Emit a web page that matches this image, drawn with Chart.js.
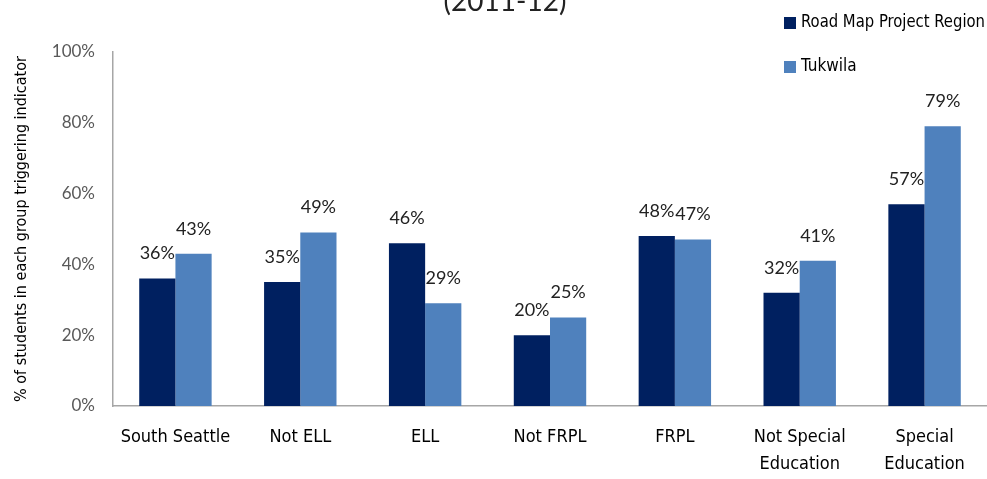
<!DOCTYPE html>
<html>
<head>
<meta charset="utf-8">
<script src="https://cdn.jsdelivr.net/npm/chart.js@4"></script>
<style>
  html, body { margin: 0; padding: 0; background: #fff; }
  #wrap { width: 987px; height: 479px; position: relative; }
</style>
</head>
<body>
<div id="wrap"><canvas id="chart"></canvas></div>
<script>
// 2011-12 indicator rates, Road Map region vs Tukwila
const categories = [
    'South Seattle', 'Not ELL', 'ELL', 'Not FRPL', 'FRPL',
    ['Not Special', 'Education'], ['Special', 'Education']
];
const roadMapValues = [36, 35, 46, 20, 48, 32, 57];
const tukwilaValues = [43, 49, 29, 25, 47, 41, 79];
const seriesNames   = ['Road Map Project Region', 'Tukwila'];
const yTicks        = [0, 20, 40, 60, 80, 100];

const DARK  = '#002060';
const LIGHT = '#4F81BD';
const NARROW = '"DejaVu Sans Condensed", "Liberation Sans Narrow", sans-serif';
const ROUND  = 'Lato, "DejaVu Sans", sans-serif';

// value labels above each bar
const valueLabels = {
    id: 'valueLabels',
    afterDatasetsDraw(chart) {
        const ctx = chart.ctx;
        ctx.save();
        ctx.font = '18px ' + ROUND;
        ctx.fillStyle = '#222';
        ctx.textAlign = 'center';
        ctx.textBaseline = 'bottom';
        chart.data.datasets.forEach((ds, i) => {
            chart.getDatasetMeta(i).data.forEach((bar, j) => {
                ctx.fillText(ds.data[j] + '%', bar.x, bar.y - 16);
            });
        });
        ctx.restore();
    }
};

// cut-off title and the legend in the top right corner
const extras = {
    id: 'extras',
    afterDraw(chart) {
        const ctx = chart.ctx;
        ctx.save();
        ctx.font = '28px ' + ROUND;
        ctx.fillStyle = '#222';
        ctx.textAlign = 'center';
        ctx.textBaseline = 'alphabetic';
        ctx.fillText('(2011-12)', 505, 11);

        ctx.font = '17px ' + NARROW;
        ctx.textAlign = 'left';
        ctx.textBaseline = 'middle';
        chart.data.datasets.forEach((ds, i) => {
            const y = 23 + i * 44;
            ctx.fillStyle = ds.backgroundColor;
            ctx.fillRect(784, y - 6, 12, 12);
            ctx.fillStyle = '#000';
            ctx.fillText(ds.label, 801, y, 184);
        });
        ctx.restore();
    }
};

new Chart(document.getElementById('chart'), {
    type: 'bar',
    data: {
        labels: categories,
        datasets: [
            { label: seriesNames[0], data: roadMapValues, backgroundColor: DARK },
            { label: seriesNames[1], data: tukwilaValues, backgroundColor: LIGHT },
        ]
    },
    options: {
        responsive: true,
        maintainAspectRatio: false,
        animation: false,
        layout: { padding: { top: 52, right: 0, bottom: 0, left: 0 } },
        datasets: { bar: { categoryPercentage: 0.58, barPercentage: 1.0 } },
        plugins: {
            legend: { display: false },
            tooltip: { enabled: false },
        },
        scales: {
            x: {
                grid: { display: false, drawTicks: false },
                border: { color: '#a6a6a6', width: 1.5 },
                ticks: {
                    color: '#000',
                    font: { family: NARROW, size: 18, lineHeight: 1.5 },
                    padding: 18,
                    maxRotation: 0,
                    autoSkip: false,
                },
                afterFit: s => { s.height = 73; },
            },
            y: {
                min: 0,
                max: 100,
                grid: { display: false, drawTicks: false },
                border: { color: '#a6a6a6', width: 1.5 },
                afterBuildTicks: s => { s.ticks = yTicks.map(v => ({ value: v })); },
                ticks: {
                    color: '#595959',
                    font: { family: ROUND, size: 17 },
                    padding: 18,
                    callback: v => v + '%',
                },
                title: {
                    display: true,
                    text: '% of students in each group triggering indicator',
                    color: '#000',
                    font: { family: NARROW, size: 16 },
                    padding: { top: 12, bottom: 6 },
                },
                afterFit: s => { s.width = 113; },
            }
        }
    },
    plugins: [valueLabels, extras],
});
</script>
</body>
</html>
